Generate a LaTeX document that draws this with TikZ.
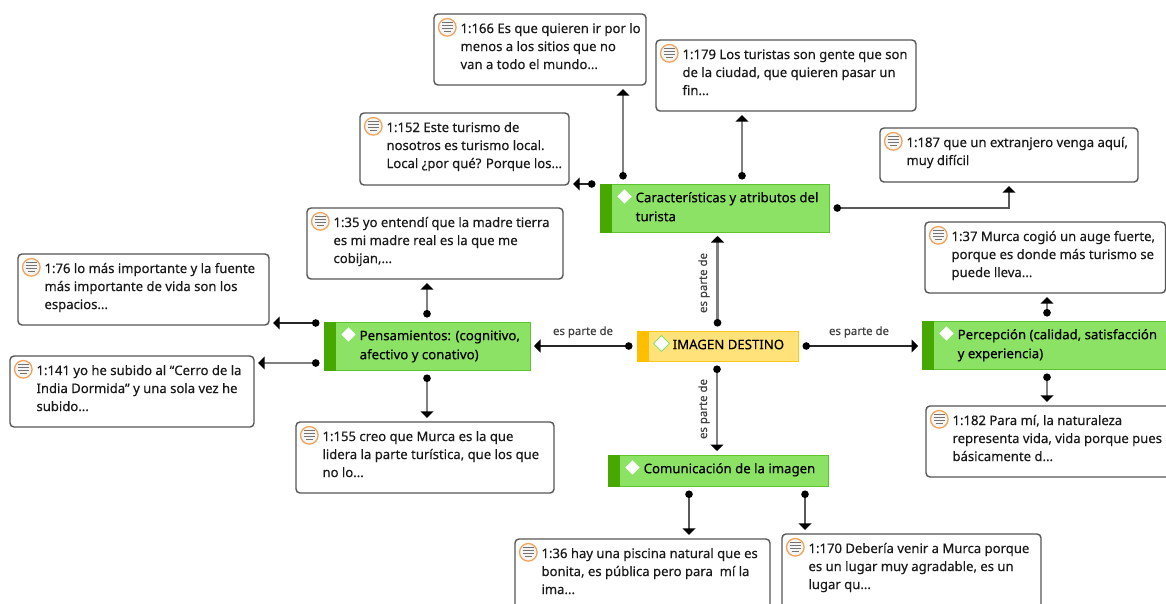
\documentclass[tikz,border=0pt]{standalone}
\usepackage{fontspec}
\setmainfont{Noto Sans}[FakeBold=0.25]
\usetikzlibrary{arrows.meta,calc}
\definecolor{noteline}{HTML}{555555}
\definecolor{greenfill}{HTML}{8CE264}
\definecolor{greenbar}{HTML}{46A800}
\definecolor{greenedge}{HTML}{5CC42C}
\definecolor{yellowfill}{HTML}{FFE27A}
\definecolor{yellowbar}{HTML}{FFBF00}
\definecolor{yellowedge}{HTML}{FFC61A}
\definecolor{iconring}{HTML}{F0A45A}
\tikzset{
  x=1pt,y=-1pt,
  notebox/.style={draw=noteline,line width=1.4pt,rounded corners=4pt,fill=white,inner sep=0pt},
  codenode/.style={inner sep=0pt,line width=1pt},
  bodytext/.style={inner sep=0pt,anchor=north west,align=left,text=black!90,font=\fontsize{13.1}{18}\selectfont},
  codetext/.style={inner sep=0pt,anchor=north west,align=left,text=black,font=\fontsize{13.2}{19}\selectfont},
  linklabel/.style={inner sep=0pt,text=black!75,font=\fontsize{11.4}{13}\selectfont},
  conn/.style={{Circle[length=7.5pt,width=7.5pt,black]}-{Triangle[length=6.5pt,width=13pt,black]},shorten <=4pt,shorten >=3.5pt},
  thinconn/.style={conn,draw=black!85,line width=1.2pt},
  thickconn/.style={conn,draw=black!50,line width=2.4pt},
  midconn/.style={conn,draw=black!65,line width=1.8pt},
}
\newcommand{\notebox}[6]{%
  \pgfmathsetmacro{\cxv}{(#2+#4)/2}\pgfmathsetmacro{\cyv}{(#3+#5)/2}%
  \pgfmathsetmacro{\wv}{#4-#2}\pgfmathsetmacro{\hv}{#5-#3}%
  \node[notebox,minimum width=\wv pt,minimum height=\hv pt] (#1) at (\cxv,\cyv) {};
  \coordinate (#1i) at ([shift={(14pt,-14pt)}]#1.north west);
  \draw[iconring,line width=1.3pt,fill=black!4] (#1i) circle[radius=8.8pt];
  \foreach \dy/\hw in {-4.5/5.5,-1.5/5.5,1.5/5.5,4.5/3.5}{
    \draw[black!55,line width=1pt] ([shift={(-\hw pt,-\dy pt)}]#1i) -- ([shift={(\hw pt,-\dy pt)}]#1i);
  }
  \node[bodytext] (#1t) at ([shift={(27pt,-6.5pt)}]#1.north west) {\rule{0pt}{13pt}#6};
}
\newcommand{\codebox}[8]{%
  \pgfmathsetmacro{\cxv}{(#2+#4)/2}\pgfmathsetmacro{\cyv}{(#3+#5)/2}%
  \pgfmathsetmacro{\wv}{#4-#2}\pgfmathsetmacro{\hv}{#5-#3}%
  \node[codenode,draw=#7,fill=#6,minimum width=\wv pt,minimum height=\hv pt] (#1) at (\cxv,\cyv) {};
  \fill[#8] (#1.north west) rectangle ([xshift=12pt]#1.south west);
  \coordinate (#1d) at ([shift={(25pt,-13pt)}]#1.north west);
  \draw[fill=white,draw=greenfill,line width=.8pt] ([xshift=-8pt]#1d) -- ([yshift=8pt]#1d) -- ([xshift=8pt]#1d) -- ([yshift=-8pt]#1d) -- cycle;
}
\newcommand{\codelabel}[2]{\node[codetext] (#1t) at ([shift={(36pt,-5.5pt)}]#1.north west) {\rule{0pt}{13pt}#2};}
\begin{document}
\begin{tikzpicture}
\useasboundingbox (0,0) rectangle (1166,603);
\clip (0,0) rectangle (1166,603);
\fill[white] (0,0) rectangle (1166,603);
\notebox{Na}{434}{14}{646}{85}{1:166 Es que quieren ir por lo\\menos a los sitios que no\\van a todo el mundo...}
\notebox{Nb}{656}{40}{916}{111}{1:179 Los turistas son gente que son\\de la ciudad, que quieren pasar un\\fin...}
\notebox{Nc}{360}{113}{569}{185}{1:152 Este turismo de\\nosotros es turismo local.\\Local ¿por qué? Porque los...}
\notebox{Nd}{880}{128}{1138}{182}{1:187 que un extranjero venga aquí,\\muy difícil}
\notebox{Ne}{307}{208}{563}{279}{1:35 yo entendí que la madre tierra\\es mi madre real es la que me\\cobijan,...}
\notebox{Nf}{18}{254}{269}{325}{1:76 lo más importante y la fuente\\más importante de vida son los\\espacios...}
\notebox{Ng}{10}{356}{254}{427}{1:141 yo he subido al “Cerro de la\\India Dormida” y una sola vez he\\subido...}
\notebox{Nh}{296}{422}{554}{493}{1:155 creo que Murca es la que\\lidera la parte turística, que los que\\no lo...}
\notebox{Ni}{925}{222}{1165.5}{293}{1:37 Murca cogió un auge fuerte,\\porque es donde más turismo se\\puede lleva...}
\notebox{Nj}{926}{406}{1185}{477}{1:182 Para mí, la naturaleza\\representa vida, vida porque pues\\básicamente d...}
\notebox{Nk}{515}{539}{770}{625}{1:36 hay una piscina natural que es\\bonita, es pública pero para\ \ mí la\\ima...}
\notebox{Nl}{782}{534}{1041}{625}{1:170 Debería venir a Murca porque\\es un lugar muy agradable, es un\\lugar qu...}
\codebox{C}{600}{184}{829}{232}{greenfill}{greenedge}{greenbar}
\codelabel{C}{Características y atributos del\\turista}
\codebox{P}{324}{322}{530}{370}{greenfill}{greenedge}{greenbar}
\codelabel{P}{Pensamientos: (cognitivo,\\afectivo y conativo)}
\codebox{D}{637}{331}{798}{361}{yellowfill}{yellowedge}{yellowbar}
\codelabel{D}{IMAGEN DESTINO}
\codebox{R}{922}{321}{1185}{369}{greenfill}{greenedge}{greenbar}
\codelabel{R}{Percepción (calidad, satisfacción\\y experiencia)}
\codebox{K}{608}{455}{828}{486}{greenfill}{greenedge}{greenbar}
\codelabel{K}{Comunicación de la imagen}
% connectors
\draw[thickconn] (D.north) -- (D.north |- C.south);
\draw[thinconn] (D.west) -- (P.east |- D.west);
\draw[thinconn] (D.east) -- (R.west |- D.east);
\draw[thickconn] (717,0 |- D.south) -- (717,0 |- K.north);
\draw[thickconn] (623,0 |- C.north) -- (623,0 |- Na.south);
\draw[thickconn] (742,0 |- C.north) -- (742,0 |- Nb.south);
\draw[thinconn] (C.west |- 0,184) -- (Nc.east |- 0,184);
\draw[midconn] (C.east |- 0,208) -| (1009,0 |- Nd.south);
\draw[thickconn] (427,0 |- P.north) -- (427,0 |- Ne.south);
\draw[thinconn] (P.west |- 0,323) -- (Nf.east |- 0,323);
\draw[thickconn] (P.west |- 0,363) -- (Ng.east |- 0,363);
\draw[thickconn] (427,0 |- P.south) -- (427,0 |- Nh.north);
\draw[thickconn] (1047,0 |- R.north) -- (1047,0 |- Ni.south);
\draw[thickconn] (1047,0 |- R.south) -- (1047,0 |- Nj.north);
\draw[midconn] (689,0 |- K.south) -- (689,0 |- Nk.north);
\draw[midconn] (805,0 |- K.south) -- (805,0 |- Nl.north);
% labels
\node[linklabel] (l1) at (583,332) {es parte de};
\node[linklabel] (l2) at (859,332) {es parte de};
\node[linklabel,rotate=90] (l3) at (704,283) {es parte de};
\node[linklabel,rotate=90] (l4) at (704,409) {es parte de};
\end{tikzpicture}
\end{document}
